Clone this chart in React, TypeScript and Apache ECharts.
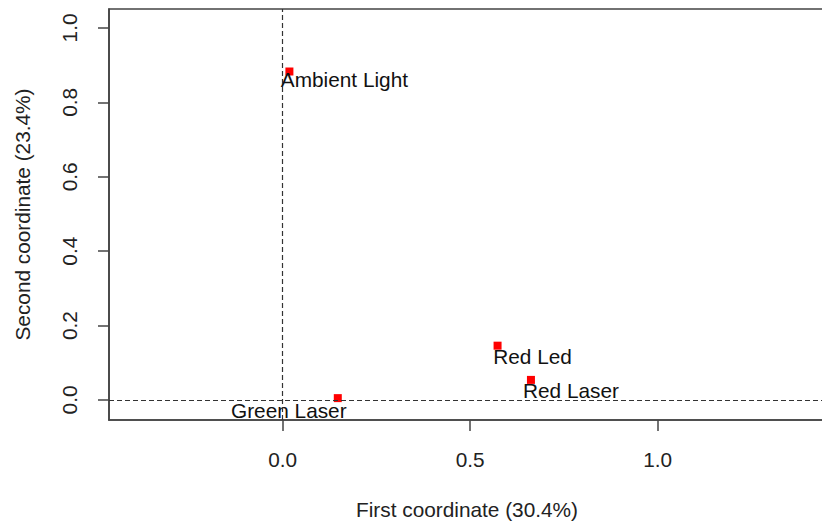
import React, { useEffect, useRef } from "react";
import * as echarts from "echarts";

const pointNames = ["Ambient Light", "Red Led", "Red Laser", "Green Laser"];
const firstCoord = [0.018, 0.573, 0.662, 0.147];
const secondCoord = [0.883, 0.146, 0.054, 0.005];
const xTicks = [0, 0.5, 1.0];
const yTicks = [0, 0.2, 0.4, 0.6, 0.8, 1.0];
const xTitle = "First coordinate (30.4%)";
const yTitle = "Second coordinate (23.4%)";

// label placement offsets (px) relative to each marker
const labelOffsets: [number, number][] = [
  [55, 8],
  [35, 11],
  [40, 11],
  [-49, 12],
];

const FONT = "'Liberation Sans', Arial, sans-serif";
const FS = 20.8;
const INK = "#444";
const X_MIN = -0.463;
const X_MAX = 1.446;
const Y_MIN = -0.0538;
const Y_MAX = 1.051;
const TICK = 11;

export default function App() {
  const ref = useRef<HTMLDivElement>(null);
  useEffect(() => {
    if (!ref.current) return;
    const chart = echarts.init(ref.current, undefined, { renderer: "svg" });
    const data = pointNames.map((n, i) => ({
      name: n,
      value: [firstCoord[i], secondCoord[i]],
      label: { offset: labelOffsets[i] },
    }));
    chart.setOption({
      animation: false,
      backgroundColor: "#fff",
      textStyle: { fontFamily: FONT },
      grid: {
        left: 109,
        top: 9,
        width: 716,
        height: 411,
        outerBoundsMode: "none",
        containLabel: false,
        show: true,
        borderColor: INK,
        borderWidth: 1.6,
        backgroundColor: "transparent",
      },
      xAxis: {
        type: "value",
        position: "bottom",
        min: X_MIN,
        max: X_MAX,
        splitLine: { show: false },
        axisLine: {
          show: true,
          onZero: false,
          lineStyle: { color: INK, width: 1.6 },
        },
        axisTick: {
          show: true,
          length: TICK,
          customValues: xTicks,
          lineStyle: { color: INK, width: 1.5 },
        },
        axisLabel: {
          customValues: xTicks,
          formatter: (v: number) => v.toFixed(1),
          fontSize: FS,
          fontFamily: FONT,
          color: "#222",
          margin: 29,
        },
        name: xTitle,
        nameLocation: "middle",
        nameGap: 79,
        nameTextStyle: { fontSize: FS, fontFamily: FONT, color: "#222" },
      },
      yAxis: {
        type: "value",
        position: "left",
        min: Y_MIN,
        max: Y_MAX,
        splitLine: { show: false },
        axisLine: {
          show: true,
          onZero: false,
          lineStyle: { color: INK, width: 1.6 },
        },
        axisTick: {
          show: true,
          length: TICK,
          customValues: yTicks,
          lineStyle: { color: INK, width: 1.5 },
        },
        axisLabel: {
          customValues: yTicks,
          formatter: (v: number) => v.toFixed(1),
          fontSize: FS,
          fontFamily: FONT,
          color: "#222",
          rotate: 90,
          margin: 29,
        },
        name: yTitle,
        nameLocation: "middle",
        nameGap: 76,
        nameRotate: 90,
        nameTextStyle: { fontSize: FS, fontFamily: FONT, color: "#222" },
      },
      series: [
        {
          type: "scatter",
          symbol: "rect",
          symbolSize: 8,
          itemStyle: { color: "#ff0000", opacity: 1 },
          data,
          label: {
            show: true,
            position: "inside",
            formatter: (p: any) => p.name,
            fontSize: FS,
            fontFamily: FONT,
            color: "#111",
          },
          markLine: {
            silent: true,
            symbol: "none",
            label: { show: false },
            lineStyle: { color: "#333", type: [5, 3], width: 1.2 },
            data: [{ xAxis: 0 }, { yAxis: 0 }],
          },
          z: 3,
        },
      ],
    });
    return () => chart.dispose();
  }, []);
  return (
    <div
      ref={ref}
      style={{ position: "fixed", left: 0, top: 0, width: 822, height: 522 }}
    />
  );
}
